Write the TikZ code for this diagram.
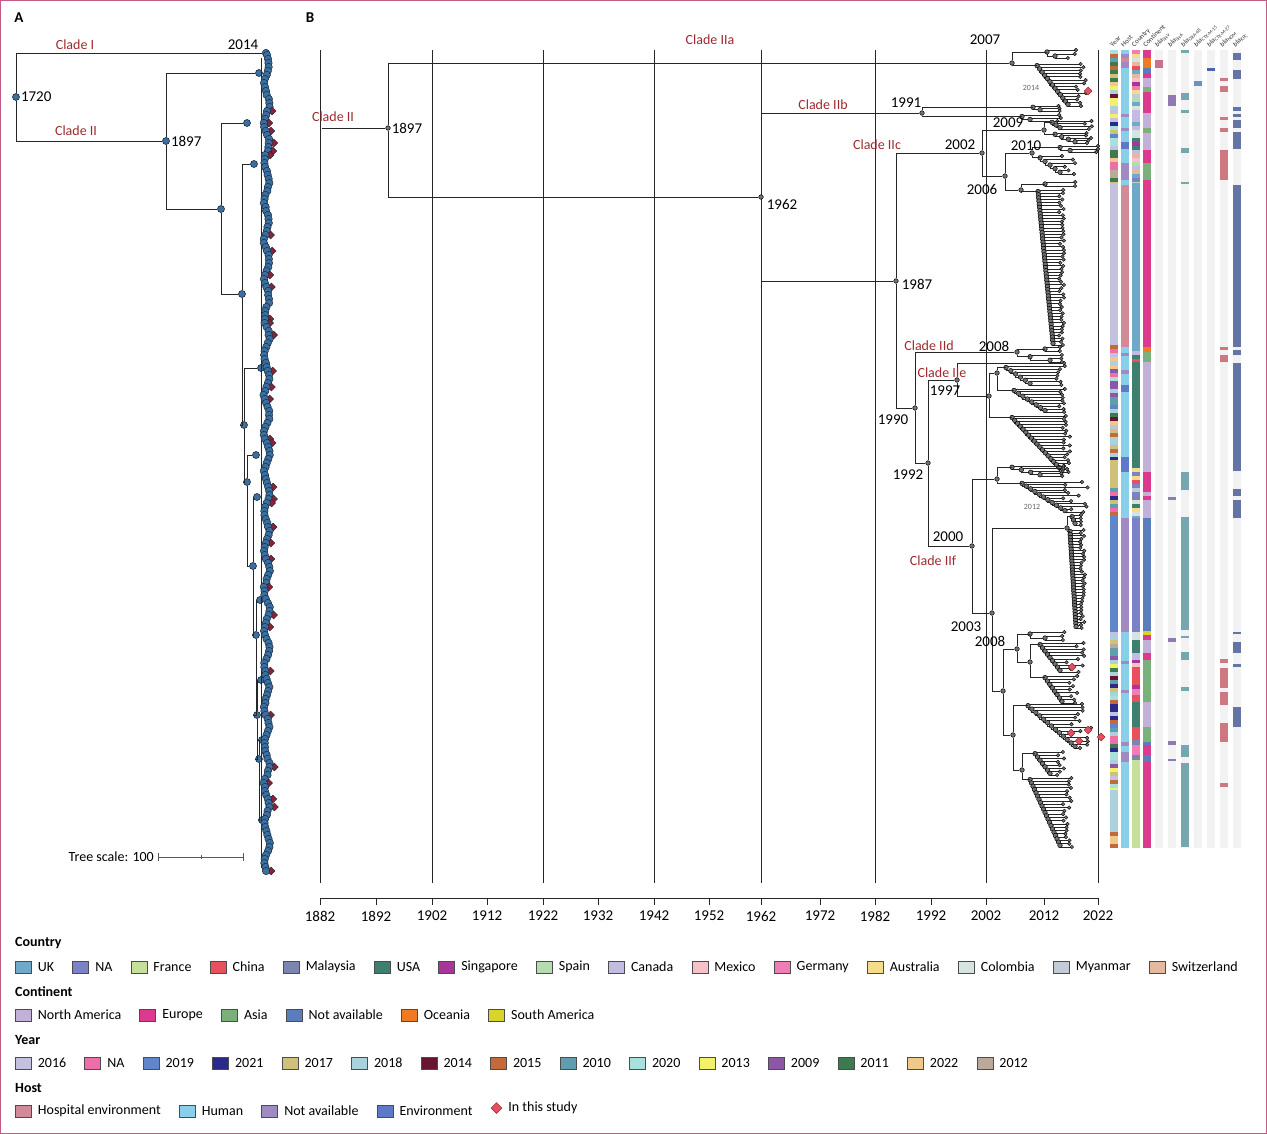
\documentclass[tikz,border=0pt]{standalone}
\usepackage{fontspec}
\setmainfont{Carlito}
\usepackage{tikz}
\usetikzlibrary{positioning,shapes.geometric}

\definecolor{cladered}{HTML}{9E2A2F}
\definecolor{framec}{HTML}{C25A86}
\definecolor{aBlue}{HTML}{3C6F9E}
\definecolor{aNavy}{HTML}{1C2B40}
\definecolor{aRed}{HTML}{8E2233}
\definecolor{studyred}{HTML}{E5505E}
\definecolor{genebg}{HTML}{F1F2F1}
\definecolor{ct1}{HTML}{6FA8C8}
\definecolor{ct2}{HTML}{7B83C6}
\definecolor{ct3}{HTML}{C5E09B}
\definecolor{ct4}{HTML}{E8505B}
\definecolor{ct5}{HTML}{7A86AE}
\definecolor{ct6}{HTML}{3F7F6F}
\definecolor{ct7}{HTML}{A8359A}
\definecolor{ct8}{HTML}{B5DBB0}
\definecolor{ct9}{HTML}{C1BCE0}
\definecolor{ct10}{HTML}{F6C2C8}
\definecolor{ct11}{HTML}{F07DB5}
\definecolor{ct12}{HTML}{F6DC8A}
\definecolor{ct13}{HTML}{D6E3DE}
\definecolor{ct14}{HTML}{C2CCD9}
\definecolor{ct15}{HTML}{E5B8A0}
\definecolor{cn1}{HTML}{C2B0D8}
\definecolor{cn2}{HTML}{DB3A8F}
\definecolor{cn3}{HTML}{7BB07A}
\definecolor{cn4}{HTML}{5B7DBB}
\definecolor{cn5}{HTML}{F07A22}
\definecolor{cn6}{HTML}{D9D42C}
\definecolor{yr1}{HTML}{C2C2E0}
\definecolor{yr2}{HTML}{EE6FA8}
\definecolor{yr3}{HTML}{5E86C8}
\definecolor{yr4}{HTML}{2B2A8A}
\definecolor{yr5}{HTML}{CFC07A}
\definecolor{yr6}{HTML}{A9D2DC}
\definecolor{yr7}{HTML}{6A1530}
\definecolor{yr8}{HTML}{C46A3A}
\definecolor{yr9}{HTML}{5E9EAE}
\definecolor{yr10}{HTML}{A8E0DC}
\definecolor{yr11}{HTML}{F4F06A}
\definecolor{yr12}{HTML}{8B57A6}
\definecolor{yr13}{HTML}{3C7A50}
\definecolor{yr14}{HTML}{F0C98A}
\definecolor{yr15}{HTML}{BCA99A}
\definecolor{hs1}{HTML}{D28A98}
\definecolor{hs2}{HTML}{8ACFEA}
\definecolor{hs3}{HTML}{9F8AC4}
\definecolor{hs4}{HTML}{6078C8}
\definecolor{gPink}{HTML}{C97090}
\definecolor{gPurple}{HTML}{8F7BB0}
\definecolor{gTeal}{HTML}{76A7AE}
\definecolor{gBlue}{HTML}{7090C0}
\definecolor{gNavy}{HTML}{4A66A8}
\definecolor{gRed}{HTML}{CD7880}
\definecolor{gSlate}{HTML}{6474A4}

\tikzset{
  br/.style={line width=0.9pt, black!85},
  grid/.style={line width=0.9pt, black!85},
  inode/.style={circle, fill=black!55, draw=black, line width=0.5pt, inner sep=0pt, minimum size=4.6pt},
  tip/.style={circle, fill=black!55, draw=black, line width=0.4pt, inner sep=0pt, minimum size=3.6pt},
  study/.style={diamond, fill=studyred, draw=aRed, line width=0.5pt, inner sep=0pt, minimum size=8pt},
  anode/.style={circle, fill=aBlue, draw=aNavy, line width=0.6pt, inner sep=0pt, minimum size=7pt},
  amk/.style={circle, fill=aBlue, draw=aNavy, line width=0.5pt, inner sep=0pt, minimum size=7.5pt},
  adm/.style={diamond, fill=aRed, draw=aNavy, line width=0.5pt, inner sep=0pt, minimum size=8pt},
  yrlab/.style={font=\fontsize{15}{17}\selectfont, inner sep=1pt},
  clade/.style={text=cladered, font=\fontsize{14}{16}\selectfont, inner sep=1pt},
  tiny/.style={text=black!60, font=\fontsize{8}{9}\selectfont, inner sep=0pt},
  colhead/.style={rotate=45, anchor=west, inner sep=0pt, font=\fontsize{7}{8}\selectfont, text=black!80},
  legsq/.style={draw=black!70, line width=0.7pt, minimum width=16pt, minimum height=12pt, inner sep=0pt},
  legtxt/.style={inner sep=0pt, anchor=west},
  legttl/.style={inner sep=0pt, anchor=west, font=\bfseries\fontsize{14}{16}\selectfont},
  node distance=6pt
}

\newcommand\combtree[8]{%
  \pgfmathsetmacro\ch{(#5-#4)/(#6-1)}%
  \pgfmathtruncatemacro\cm{#6-2}%
  \coordinate (#1) at (#2,#4+0.5*\ch);%
  \foreach \k in {0,...,\cm}{%
    \pgfmathsetmacro\cx{#2+(#3-#2)*\k/max(\cm,1)}%
    \pgfmathsetmacro\cnx{#2+(#3-#2)*(\k+1)/max(\cm,1)}%
    \pgfmathsetmacro\cy{#4+\k*\ch}%
    \pgfmathsetmacro\ctip{max(#7-rnd*#8,\cx+5)}%
    \draw[br] (\cx,\cy+0.5*\ch) |- (\ctip,\cy) node[tip]{};%
    \ifnum\k<\cm
      \draw[br] (\cx,\cy+0.5*\ch) |- (\cnx,\cy+1.5*\ch);%
    \else
      \pgfmathsetmacro\ctip{max(#7-rnd*#8,\cx+5)}%
      \draw[br] (\cx,\cy+0.5*\ch) |- (\ctip,\cy+\ch) node[tip]{};%
    \fi
    \node[inode] at (\cx,\cy+0.5*\ch) {};%
  }%
}
\newcommand\hseg[4]{\fill[#4] (#1,#2) rectangle (#1+8,#3);}
\newcommand\mixzone[5]{%
  \pgfmathtruncatemacro\nz{ceil((#3-#2)/4)-1}%
  \foreach \q in {0,...,\nz}{%
    \pgfmathrandominteger{\ri}{1}{#5}%
    \pgfmathsetmacro\za{#2+4*\q}%
    \pgfmathsetmacro\zb{min(#2+4*\q+4,#3)}%
    \fill[#4\ri] (#1,\za) rectangle (#1+8,\zb);%
  }%
}

\begin{document}
\begin{tikzpicture}[x=1pt, y=-1pt, font=\fontsize{14}{16}\selectfont]
\useasboundingbox (0,0) rectangle (1267,1134);
\draw[framec, line width=1.2pt] (0.6,0.6) rectangle (1266.4,1133.4);
\pgfmathsetseed{11}

\node[font=\bfseries\fontsize{15}{17}\selectfont] at (19,18) {A};
\node[font=\bfseries\fontsize{15}{17}\selectfont] at (310,18) {B};

\node[anode] (aroot) at (16,97) {};
\node[anode] (a1897) at (166,141) {};
\node[amk] (aI) at (266,53) {};
\node[anode] (a2) at (221,209) {};
\node[anode] (aT) at (259,73) {};
\node[anode] (a3) at (247,123) {};
\node[anode] (a4) at (242,294) {};
\node[anode] (a6) at (254,164) {};
\node[anode] (a7) at (244,425) {};
\node[anode] (a8) at (261,368) {};
\node[anode] (a9) at (247,482) {};
\node[anode] (a9b) at (256,455) {};
\node[anode] (a10) at (253,566) {};
\node[anode] (a10b) at (257,497) {};
\node[anode] (a11) at (256,635) {};
\node[anode] (a11b) at (260,600) {};
\node[anode] (a12) at (257,715) {};
\node[anode] (a12b) at (261,680) {};
\node[anode] (a13) at (259,759) {};
\node[anode] (a13b) at (262,740) {};
\node[anode] (a13c) at (262,820) {};
\foreach \p/\c in {aroot/aI, aroot/a1897, a1897/aT, a1897/a2, a2/a3, a2/a4, a4/a6, a4/a7, a7/a8, a7/a9,
    a9/a9b, a9/a10, a10/a10b, a10/a11, a11/a11b, a11/a12, a12/a12b, a12/a13, a13/a13b, a13/a13c}
  \draw[br] (\p) |- (\c);
\node[yrlab, anchor=west] at (aroot.east) {1720};
\node[yrlab, anchor=west] at (a1897.east) {1897};
\node[yrlab] at (243,45) {2014};
\node[clade] at (75,45) {Clade I};
\node[clade] at (76,131) {Clade II};
\draw[br] (261,58) -- (261,868);
\foreach \i in {0,...,204}{
  \pgfmathsetmacro\ly{55+4*\i}
  \pgfmathsetmacro\lx{266+2.5*sin(\i*37)+1.5*rnd}
  \pgfmathsetmacro\dm{rnd}
  \ifdim\dm pt<0.16pt \node[adm] at (\lx+5,\ly) {}; \fi
  \node[amk] at (\lx,\ly) {};
}
\node[anchor=east, inner sep=0pt] (tsc) at (154,857) {Tree scale: 100};
\draw[black!65, line width=0.8pt] (158,857) -- (243,857);
\draw[black!65, line width=0.8pt] (158,853) -- (158,861) (243,853) -- (243,861) (201,855) -- (201,859);

\foreach \gx in {320,432,543,654,761,875,986,1098}
  \draw[grid] (\gx,50) -- (\gx,883);
\draw[grid] (320,898) -- (1098,898);
\foreach \tkx/\tkl in {320/1882,376/1892,432/1902,487/1912,543/1922,598/1932,654/1942,709/1952,
    761/1962,820/1972,875/1982,931/1992,986/2002,1044/2012,1098/2022}{
  \draw[grid] (\tkx,898) -- (\tkx,905);
  \node[yrlab] at (\tkx,916) {\tkl};
}

\coordinate (bR) at (322,128);
\node[inode] (b1897) at (388,128) {};
\node[inode] (b2007) at (1012,63) {};
\node[inode] (b1962) at (761,197) {};
\node[inode] (b1991) at (922,113) {};
\node[inode] (b1987) at (896,281) {};
\node[inode] (b2002) at (982,153) {};
\node[inode] (b2009) at (1044,130) {};
\node[inode] (b2006) at (1005,176) {};
\node[inode] (b2010) at (1032,153) {};
\node[inode] (b1990) at (915,408) {};
\node[inode] (b2008d) at (1017,352) {};
\node[inode] (b1992) at (928,463) {};
\node[inode] (b1997) at (957,380) {};
\node[inode] (be1) at (989,396) {};
\node[inode] (be2) at (997,373) {};
\node[tip] (be0) at (1064,363) {};
\node[inode] (b2000) at (972,546) {};
\node[inode] (bf1) at (997,479) {};
\node[inode] (b2003) at (992,613) {};
\node[inode] (bf2) at (1067,528) {};
\node[inode] (bf3) at (1003,691) {};
\node[inode] (bf4) at (1017,649) {};
\node[inode] (bf5) at (1013,735) {};
\node[inode] (bf6) at (1030,662) {};
\node[inode] (bf7) at (1022,770) {};
\node[inode] (bc6) at (1021,190) {};

\combtree{tA1}{1047}{1055}{50}{58}{3}{1078}{14}
\combtree{tA2}{1037}{1068}{64}{106}{14}{1088}{14}
\combtree{tB1}{1033}{1040}{106}{111}{3}{1062}{5}
\combtree{tB2}{1022}{1030}{115}{121}{3}{1062}{6}
\combtree{tC1}{1052}{1060}{121}{129}{4}{1092}{10}
\combtree{tC2}{1055}{1075}{133}{143}{5}{1092}{8}
\combtree{tC3}{1060}{1070}{146}{152}{3}{1098}{2}
\combtree{tC4}{1040}{1060}{156}{174}{6}{1080}{18}
\combtree{tC5}{1045}{1050}{182}{186}{2}{1076}{3}
\combtree{tC6}{1038}{1053}{190}{345}{50}{1064}{5}
\combtree{tD1}{1045}{1050}{347}{351}{2}{1062}{4}
\combtree{tD2}{1030}{1050}{355}{362}{3}{1062}{5}
\combtree{tE1}{1006}{1030}{366}{385}{7}{1066}{10}
\combtree{tE2}{1014}{1045}{389}{412}{9}{1068}{12}
\combtree{tE3}{1012}{1062}{416}{472}{20}{1070}{8}
\combtree{tF1}{1012}{1040}{466}{476}{5}{1064}{5}
\combtree{tF2}{1022}{1065}{482}{512}{12}{1088}{25}
\combtree{tF3}{1072}{1075}{515}{525}{4}{1083}{3}
\combtree{tF4}{1070}{1076}{530}{628}{34}{1085}{5}
\combtree{tF5}{1030}{1045}{632}{640}{3}{1070}{10}
\combtree{tF6}{1040}{1060}{643}{672}{10}{1088}{22}
\combtree{tF7}{1045}{1062}{676}{703}{9}{1080}{12}
\combtree{tF8}{1028}{1075}{704}{748}{14}{1092}{22}
\combtree{tF9}{1035}{1050}{752}{775}{8}{1064}{8}
\combtree{tF10}{1030}{1060}{778}{847}{22}{1072}{10}

\draw[br] (bR) -- (b1897);
\foreach \p/\c in {b1897/b2007, b1897/b1962, b1962/b1991, b1962/b1987, b1987/b2002, b1987/b1990,
    b2002/b2009, b2002/b2006, b2006/b2010, b2006/bc6, b1990/b2008d, b1990/b1992, b1992/b1997,
    b1992/b2000, b1997/be0, b1997/be1, be1/be2, b2000/bf1, b2000/b2003, b2003/bf2, b2003/bf3,
    bf3/bf4, bf3/bf5, bf4/bf6, bf5/bf7,
    b2007/tA1, b2007/tA2, b1991/tB1, b1991/tB2, b2009/tC1, b2009/tC2, b2010/tC3, b2010/tC4,
    bc6/tC5, bc6/tC6, b2008d/tD1, b2008d/tD2, be2/tE1, be2/tE2, be1/tE3, bf1/tF1, bf1/tF2,
    bf2/tF3, bf2/tF4, bf4/tF5, bf6/tF6, bf6/tF7, bf5/tF8, bf7/tF9, bf7/tF10}
  \draw[br] (\p) |- (\c);

\foreach \sx/\sy in {1088/91, 1072/667, 1071/733, 1088/730, 1079/741, 1101/737}
  \node[study] at (\sx,\sy) {};

\node[clade] at (333,117) {Clade II};
\node[yrlab, anchor=west] at (b1897.east) {1897};
\node[clade] at (710,40) {Clade IIa};
\node[yrlab] at (985,40) {2007};
\node[clade] at (823,105) {Clade IIb};
\node[yrlab] at (906,103) {1991};
\node[yrlab] at (782,204) {1962};
\node[yrlab] at (917,284) {1987};
\node[clade] at (877,145) {Clade IIc};
\node[yrlab] at (960,145) {2002};
\node[yrlab] at (1008,123) {2009};
\node[yrlab] at (982,189) {2006};
\node[yrlab] at (1026,146) {2010};
\node[clade] at (929,346) {Clade IId};
\node[yrlab] at (994,346) {2008};
\node[yrlab] at (893,420) {1990};
\node[clade] at (942,373) {Clade IIe};
\node[yrlab] at (945,391) {1997};
\node[yrlab] at (908,475) {1992};
\node[yrlab] at (948,537) {2000};
\node[clade] at (933,561) {Clade IIf};
\node[yrlab] at (966,627) {2003};
\node[yrlab] at (990,641) {2008};
\node[tiny] at (1031,88) {2014};
\node[tiny] at (1032,507) {2012};

\foreach \hx in {1155,1168,1181,1194,1207,1220,1233}
  \hseg{\hx}{50}{848}{genebg};
\mixzone{1110}{50}{183}{yr}{15}
\hseg{1110}{183}{345}{yr1}
\mixzone{1110}{345}{460}{yr}{15}
\hseg{1110}{460}{488}{yr5}
\mixzone{1110}{488}{515}{yr}{15}
\hseg{1110}{515}{632}{yr3}
\mixzone{1110}{632}{790}{yr}{15}
\hseg{1110}{790}{832}{yr6}
\mixzone{1110}{832}{848}{yr}{15}
\mixzone{1121}{50}{68}{hs}{4}
\foreach \a/\b/\c in {68/163/hs2, 114/117/hs3, 128/131/hs3, 142/149/hs4, 163/180/hs3, 180/185/hs2,
    185/347/hs1, 347/518/hs2, 353/356/hs3, 370/374/hs3, 385/392/hs4, 457/472/hs4, 518/632/hs3,
    632/848/hs2, 661/664/hs3, 690/693/hs3, 742/746/hs3, 752/762/hs3}
  \hseg{1121}{\a}{\b}{\c};
\mixzone{1132}{50}{183}{ct}{15}
\hseg{1132}{183}{347}{ct1}
\mixzone{1132}{347}{362}{ct}{15}
\hseg{1132}{362}{468}{ct6}
\mixzone{1132}{468}{518}{ct}{15}
\hseg{1132}{518}{632}{ct2}
\foreach \a/\b/\c in {632/640/ct13, 640/653/ct6, 653/660/ct9, 660/663/ct7, 663/667/ct10, 667/685/ct4,
    685/689/ct7, 689/695/ct11, 695/702/ct4, 702/727/ct6, 727/740/ct4, 740/745/ct5, 745/755/ct11,
    755/760/ct5, 760/848/ct3}
  \hseg{1132}{\a}{\b}{\c};
\foreach \a/\b/\c in {50/180/cn2, 58/68/cn5, 68/73/cn4, 78/87/cn1, 87/92/cn3, 113/128/cn1, 128/133/cn3,
    133/150/cn1, 163/180/cn3, 180/347/cn2, 347/352/cn5, 352/362/cn3, 362/472/cn1, 472/492/cn2,
    492/496/cn1, 496/500/cn2, 500/518/cn1, 518/631/cn4, 631/635/cn6, 635/640/cn2, 640/653/cn1,
    653/660/cn2, 660/667/cn3, 667/688/cn3, 688/702/cn3, 702/727/cn1, 727/742/cn3, 742/745/cn4,
    745/755/cn2, 755/762/cn4, 762/848/cn2}
  \hseg{1143}{\a}{\b}{\c};
\hseg{1155}{60}{68}{gPink}
\foreach \a/\b in {95/106, 497/500, 638/642, 741/745, 759/761}
  \hseg{1168}{\a}{\b}{gPurple};
\foreach \a/\b in {50/53, 93/100, 110/113, 148/153, 182/184, 472/490, 517/630, 636/638, 652/660,
    687/691, 745/757, 763/847}
  \hseg{1181}{\a}{\b}{gTeal};
\hseg{1194}{81}{86}{gBlue}
\hseg{1207}{68}{71}{gNavy}
\foreach \a/\b in {78/81, 86/92, 117/120, 128/132, 150/180, 347/350, 355/362, 659/663, 668/688,
    692/705, 723/742, 783/787}
  \hseg{1220}{\a}{\b}{gRed};
\foreach \a/\b in {53/60, 70/79, 107/111, 114/117, 120/128, 132/149, 185/347, 350/355, 363/471,
    489/496, 500/518, 632/634, 642/653, 664/667, 707/727}
  \hseg{1233}{\a}{\b}{gSlate};
\node[colhead] at (1111,46) {Year};
\node[colhead] at (1122,46) {Host};
\node[colhead] at (1133,46) {Country};
\node[colhead] at (1144,46) {Continent};
\node[colhead] at (1156,46) {\textit{bla}\textsubscript{SHV}};
\node[colhead] at (1169,46) {\textit{bla}\textsubscript{SHA}};
\node[colhead] at (1182,46) {\textit{bla}\textsubscript{OXA-48}};
\node[colhead] at (1195,46) {\textit{bla}\textsubscript{CTX-M-15}};
\node[colhead] at (1208,46) {\textit{bla}\textsubscript{CTX-M-27}};
\node[colhead] at (1221,46) {\textit{bla}\textsubscript{NDM}};
\node[colhead] at (1234,46) {\textit{bla}\textsubscript{KPC}};

\node[legttl] at (15,943) {Country};
\coordinate (lgA0) at (-3,967);
\foreach \lcol/\lab [count=\i, remember=\i as \j (initially 0)] in {ct1/UK, ct2/NA, ct3/France, ct4/China,
    ct5/Malaysia, ct6/USA, ct7/Singapore, ct8/Spain, ct9/Canada, ct10/Mexico, ct11/Germany,
    ct12/Australia, ct13/Colombia, ct14/Myanmar, ct15/Switzerland}{
  \node[legsq, fill=\lcol, right=18pt of lgA\j] (lsA\i) {};
  \node[legtxt, right=6pt of lsA\i] (lgA\i) {\lab};
}
\node[legttl] at (15,992) {Continent};
\coordinate (lgB0) at (-3,1015);
\foreach \lcol/\lab [count=\i, remember=\i as \j (initially 0)] in {cn1/North America, cn2/Europe,
    cn3/Asia, cn4/Not available, cn5/Oceania, cn6/South America}{
  \node[legsq, fill=\lcol, right=18pt of lgB\j] (lsB\i) {};
  \node[legtxt, right=6pt of lsB\i] (lgB\i) {\lab};
}
\node[legttl] at (15,1040) {Year};
\coordinate (lgC0) at (-3,1063);
\foreach \lcol/\lab [count=\i, remember=\i as \j (initially 0)] in {yr1/2016, yr2/NA, yr3/2019, yr4/2021,
    yr5/2017, yr6/2018, yr7/2014, yr8/2015, yr9/2010, yr10/2020, yr11/2013, yr12/2009, yr13/2011,
    yr14/2022, yr15/2012}{
  \node[legsq, fill=\lcol, right=18pt of lgC\j] (lsC\i) {};
  \node[legtxt, right=6pt of lsC\i] (lgC\i) {\lab};
}
\node[legttl] at (15,1088) {Host};
\coordinate (lgD0) at (-3,1111);
\foreach \lcol/\lab [count=\i, remember=\i as \j (initially 0)] in {hs1/Hospital environment, hs2/Human,
    hs3/Not available, hs4/Environment}{
  \node[legsq, fill=\lcol, right=18pt of lgD\j] (lsD\i) {};
  \node[legtxt, right=6pt of lsD\i] (lgD\i) {\lab};
}
\node[study, minimum size=11pt, right=18pt of lgD4, yshift=3pt] (lsD5) {};
\node[legtxt, right=6pt of lsD5] (lgD5) {In this study};
\end{tikzpicture}
\end{document}
